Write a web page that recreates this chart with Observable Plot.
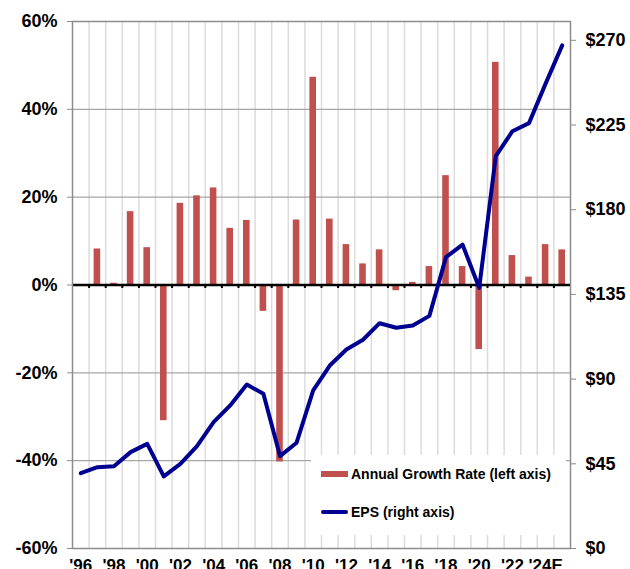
<!DOCTYPE html>
<html><head><meta charset="utf-8">
<script src="https://cdn.jsdelivr.net/npm/d3@7"></script>
<script src="https://cdn.jsdelivr.net/npm/@observablehq/plot@0.6"></script>
<style>
html,body{margin:0;padding:0;background:#fff;}
#wrap{position:relative;width:630px;height:569px;overflow:hidden;font-family:"Liberation Sans",Arial,sans-serif;}
#wrap svg{display:block;}
#legend{position:absolute;left:311px;top:455px;width:255px;height:80px;background:#fff;}
.item{position:absolute;left:10px;height:16px;line-height:16px;display:flex;align-items:center;font-weight:bold;font-size:14px;color:#000;white-space:nowrap;}
.sw{display:inline-block;width:27px;margin-right:3px;}
</style></head><body><div id="wrap"></div>
<script>
const years = [1996,1997,1998,1999,2000,2001,2002,2003,2004,2005,2006,2007,2008,2009,2010,2011,2012,2013,2014,2015,2016,2017,2018,2019,2020,2021,2022,2023,2024,2025];
const growth = [null,8.2,0.4,16.7,8.5,-30.9,18.6,20.3,22.1,12.9,14.7,-6.0,-40.3,14.8,47.3,15.0,9.2,4.8,8.0,-1.3,0.6,4.2,24.9,4.2,-14.7,50.7,6.7,1.8,9.2,8.0];
const eps = [40.0,43.2,43.7,51.2,55.6,38.3,45.0,54.4,67.1,76.0,87.1,82.2,49.1,56.2,84.0,97.2,105.7,110.9,119.7,117.3,118.5,123.6,154.8,161.4,138.5,208.5,221.7,226.0,247.0,267.3];
const xTickYears = [1996,1998,2000,2002,2004,2006,2008,2010,2012,2014,2016,2018,2020,2022,2024];
const xTickLabels = ["'96","'98","'00","'02","'04","'06","'08","'10","'12","'14","'16","'18","'20","'22","'24E"];
const leftTicks = [-60,-40,-20,0,20,40,60];
const gridTicks = [-40,-20,20,40];
const epsTicks = [0,45,90,135,180,225,270];
const leftDomain = [-60,60];
const epsDomain = [0,280];

const rows = years.map((year,i)=>({year, growth: growth[i], eps: eps[i]}));
const barRows = rows.filter(d=>d.growth!=null);
const boundaries = years.slice(1);
const epsToY = v => leftDomain[0] + (v - epsDomain[0])/(epsDomain[1]-epsDomain[0])*(leftDomain[1]-leftDomain[0]);
const yToEps = y => epsDomain[0] + (y - leftDomain[0])/(leftDomain[1]-leftDomain[0])*(epsDomain[1]-epsDomain[0]);
const labelMap = new Map(xTickYears.map((y,i)=>[y+0.5, xTickLabels[i]]));

const font = '"Liberation Sans", Arial, sans-serif';
const chart = Plot.plot({
  width:630, height:569,
  marginTop:21, marginBottom:21, marginLeft:72, marginRight:60,
  x:{domain:[years[0], years[years.length-1]+1]},
  y:{domain:leftDomain},
  style:{fontFamily:font, fontWeight:"bold", fontSize:"18px", color:"#000", background:"#fff", overflow:"visible"},
  marks:[
    Plot.ruleX(boundaries, {stroke:"#dcdcdc", strokeWidth:1.5}),
    Plot.ruleY(gridTicks, {stroke:"#a6a6a6", strokeWidth:1.3}),
    Plot.rectY(barRows, {x1:"year", x2:d=>d.year+1, y1:0, y2:"growth", fill:"#C0504D", insetLeft:5, insetRight:5}),
    Plot.ruleY([0], {stroke:"#000", strokeWidth:2.5}),
    Plot.ruleX(boundaries, {y1:0, y2:-0.8, stroke:"#000", strokeWidth:2}),
    Plot.frame({stroke:"#8c8c8c", strokeWidth:1.5}),
    Plot.line(rows, {x:d=>d.year+0.5, y:d=>epsToY(d.eps), stroke:"#000090", strokeWidth:4, strokeLinejoin:"round", strokeLinecap:"round"}),
    Plot.axisY(leftTicks, {anchor:"left", label:null, tickSize:5, tickPadding:10, stroke:"#8c8c8c", fill:"#000", fontSize:18, fontWeight:"bold", tickFormat:d=>d+"%"}),
    Plot.axisY(epsTicks.map(epsToY), {anchor:"right", label:null, tickSize:5, tickPadding:10, stroke:"#8c8c8c", fill:"#000", fontSize:18, fontWeight:"bold", tickFormat:d=>"$"+Math.round(yToEps(d))}),
    Plot.axisX(xTickYears.map(y=>y+0.5), {anchor:"bottom", label:null, tickSize:0, tickPadding:10, fill:"#000", fontSize:17, fontWeight:"bold", tickFormat:d=>labelMap.get(d)})
  ]
});
const wrap = document.getElementById("wrap");
wrap.appendChild(chart);
const legend = document.createElement("div");
legend.id = "legend";
legend.innerHTML =
  '<div class="item" style="top:11px"><span class="sw" style="height:6px;background:#C0504D"></span>Annual Growth Rate (left axis)</div>' +
  '<div class="item" style="top:49px"><span class="sw" style="height:4px;border-radius:2px;background:#000090"></span>EPS (right axis)</div>';
wrap.appendChild(legend);
</script>
</body></html>
